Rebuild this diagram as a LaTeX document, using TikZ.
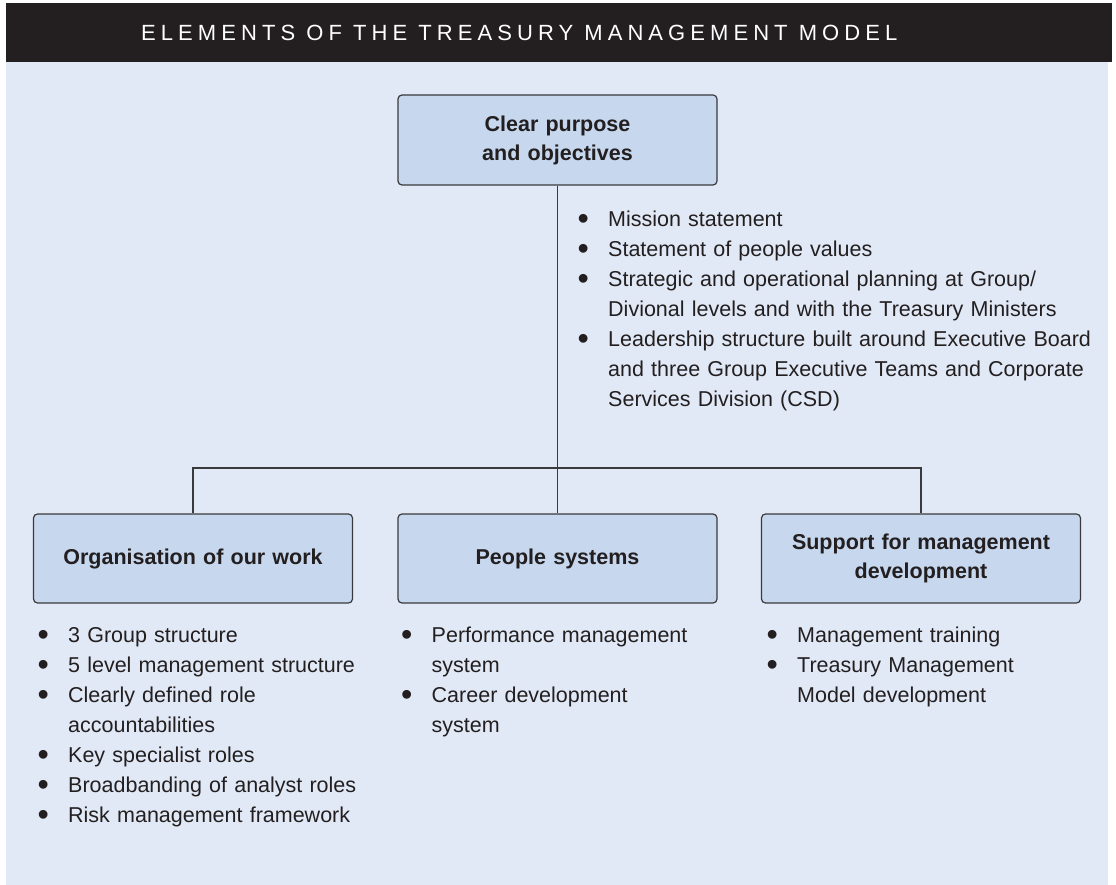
\documentclass[tikz,border=0pt]{standalone}
\usepackage{fontspec}
\setmainfont{Liberation Sans}
\newfontfamily\headfont[LetterSpace=23]{Liberation Sans}
\usepackage{graphicx}
\usepackage{enumitem}
\usetikzlibrary{positioning}
\usepackage{xcolor}

\definecolor{inkdark}{HTML}{231F20}
\definecolor{panelblue}{HTML}{E1E9F6}
\definecolor{boxblue}{HTML}{C6D7EE}
\definecolor{linegray}{HTML}{3A3A3C}

\newcommand\bodysize{\fontsize{21.5}{30}\selectfont}
\newcommand\boxsize{\fontsize{21.5}{29}\selectfont}
\newcommand\dotmark{\raisebox{-3.5pt}{\scalebox{1.5}{\textbullet}}}

\newlist{points}{itemize}{1}
\setlist[points]{label=\strut\makebox[0pt]{\dotmark}, labelwidth=0pt, labelsep=25pt, labelindent=0pt, leftmargin=25pt, nosep}

\begin{document}
\begin{tikzpicture}[
    x=1pt, y=-1pt,
    element/.style={rectangle, draw=linegray, line width=1.2pt, fill=boxblue, rounded corners=4pt, minimum width=319pt, minimum height=90pt, text width=300pt, inner sep=0pt, align=center, font=\bfseries\boxsize, text=inkdark},
    pointlist/.style={anchor=north west, inner sep=0pt, font=\bodysize, text=inkdark},
    connector/.style={draw=linegray, line width=1.3pt}
]
    \useasboundingbox (0,0) rectangle (1116,885);
    \fill[panelblue] (6,62) rectangle (1108,885);
    \fill[inkdark] (6,3) rectangle (1112,62);
    \node[anchor=west, inner sep=0pt, text=white, font=\headfont\fontsize{22}{24}\selectfont] (title) at (141,33) {ELEMENTS OF THE TREASURY MANAGEMENT MODEL};

    \node[element] (purpose) at (557.5,140) {Clear purpose\\and objectives};
    \node[element, minimum height=89pt] (organisation) at (193,558.5) {Organisation of our work};
    \node[element, minimum height=89pt] (people) at (557.5,558.5) {People systems};
    \node[element, minimum height=89pt] (support) at (921,558.5) {Support for management\\development};

    \coordinate (split) at (557.5,468);
    \draw[connector] (purpose.south) -- (people.north);
    \draw[connector] (organisation.north) |- (split) -| (support.north);

    \node[pointlist, text width=520pt] (purposelist) at (583,196) {%
        \begin{points}
            \item Mission statement
            \item Statement of people values
            \item Strategic and operational planning at Group/\\Divional levels and with the Treasury Ministers
            \item Leadership structure built around Executive Board\\and three Group Executive Teams and Corporate\\Services Division (CSD)
        \end{points}};
    \node[pointlist, text width=340pt] (organisationlist) at (43,612) {%
        \begin{points}
            \item 3 Group structure
            \item 5 level management structure
            \item Clearly defined role\\accountabilities
            \item Key specialist roles
            \item Broadbanding of analyst roles
            \item Risk management framework
        \end{points}};
    \node[pointlist, text width=340pt] (peoplelist) at (406.5,612) {%
        \begin{points}
            \item Performance management\\system
            \item Career development\\system
        \end{points}};
    \node[pointlist, text width=330pt] (supportlist) at (772,612) {%
        \begin{points}
            \item Management training
            \item Treasury Management\\Model development
        \end{points}};
\end{tikzpicture}
\end{document}
